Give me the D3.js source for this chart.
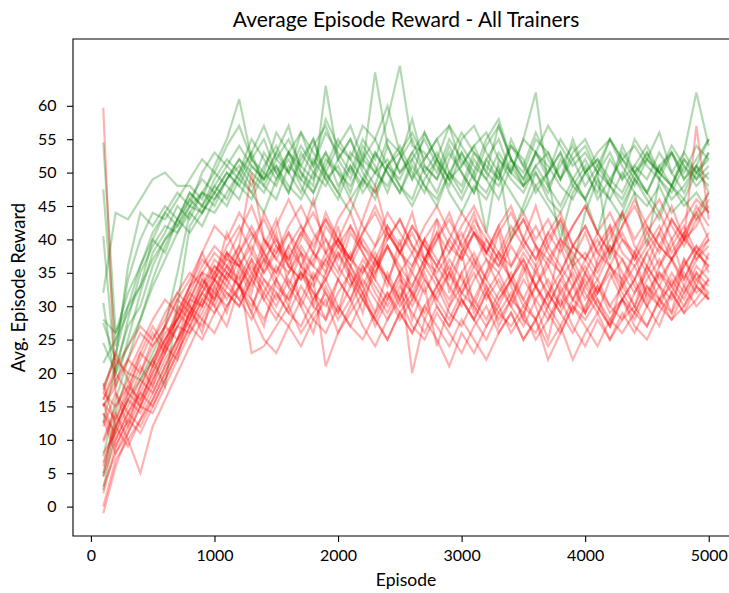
<!DOCTYPE html>
<html>
<head>
<meta charset="utf-8">
<script src="https://cdn.jsdelivr.net/npm/d3@7"></script>
<style>
  html, body { margin: 0; background: #fff; overflow: hidden; }
  svg { display: block; overflow: hidden; font-family: Lato, "DejaVu Sans", sans-serif; }
</style>
</head>
<body>
<svg id="chart" width="729" height="593"></svg>
<script>
var episodes = [100, 200, 300, 400, 500, 600, 700, 800, 900, 1000,
  1100, 1200, 1300, 1400, 1500, 1600, 1700, 1800, 1900, 2000,
  2100, 2200, 2300, 2400, 2500, 2600, 2700, 2800, 2900, 3000,
  3100, 3200, 3300, 3400, 3500, 3600, 3700, 3800, 3900, 4000,
  4100, 4200, 4300, 4400, 4500, 4600, 4700, 4800, 4900, 5000];

var xTicks = [0, 1000, 2000, 3000, 4000, 5000];
var yTicks = [0, 5, 10, 15, 20, 25, 30, 35, 40, 45, 50, 55, 60];

// green trainers
var greenRuns = [
  [54.5, 26, 30, 33, 37, 40, 42, 45, 44, 47, 50, 48, 52, 49, 51, 47, 53, 50, 48, 52, 55, 50, 47, 51, 53, 49, 52, 55, 50, 48, 53, 51, 49, 54, 52, 47, 50, 53, 48, 51, 46, 49, 52, 50, 47, 51, 53, 49, 52, 55],
  [47.5, 24, 34, 40, 44, 43, 46, 49, 52, 50, 54, 57, 52, 55, 50, 53, 56, 51, 58, 54, 52, 57, 55, 60, 53, 56, 52, 55, 57, 51, 54, 56, 52, 50, 55, 53, 57, 54, 51, 53, 50, 55, 52, 54, 51, 49, 53, 50, 54, 52],
  [40.5, 20, 28, 35, 39, 42, 41, 45, 47, 46, 49, 51, 48, 53, 50, 47, 52, 55, 49, 51, 47, 53, 50, 48, 52, 58, 51, 49, 54, 50, 47, 52, 55, 50, 48, 53, 49, 40, 47, 50, 52, 48, 46, 50, 53, 49, 47, 51, 48, 50],
  [32, 44, 43, 46, 49, 50, 48, 48, 46, 51, 55, 61, 52, 50, 56, 53, 49, 54, 57, 52, 55, 51, 65, 54, 50, 53, 56, 52, 49, 55, 57, 53, 50, 54, 51, 56, 52, 49, 53, 55, 51, 48, 54, 50, 52, 56, 50, 53, 62, 54],
  [30.5, 18, 25, 32, 38, 41, 45, 43, 47, 50, 48, 46, 51, 49, 53, 57, 50, 48, 63, 52, 49, 54, 51, 47, 52, 55, 50, 53, 49, 51, 54, 50, 57, 52, 48, 51, 53, 49, 55, 50, 47, 52, 49, 51, 54, 50, 48, 52, 49, 51],
  [27.5, 22, 36, 44, 42, 45, 43, 47, 45, 44, 47, 50, 53, 48, 46, 51, 49, 47, 52, 50, 46, 49, 53, 50, 47, 51, 48, 46, 50, 53, 49, 47, 51, 40, 45, 50, 47, 52, 49, 46, 41, 48, 45, 49, 47, 44, 48, 46, 50, 48],
  [24.5, 20, 24, 28, 34, 39, 43, 47, 45, 49, 52, 50, 55, 52, 49, 53, 51, 55, 50, 54, 57, 52, 50, 55, 53, 49, 56, 52, 57, 54, 51, 49, 53, 50, 55, 62, 48, 51, 54, 50, 53, 55, 51, 48, 52, 50, 53, 49, 51, 47],
  [21.5, 25, 29, 33, 40, 44, 42, 46, 49, 47, 45, 49, 47, 51, 54, 50, 47, 52, 49, 46, 51, 48, 53, 50, 47, 52, 48, 45, 50, 47, 52, 49, 46, 51, 48, 50, 46, 44, 48, 46, 50, 37, 44, 49, 46, 43, 48, 45, 47, 44],
  [17.5, 23, 30, 36, 41, 44, 47, 45, 50, 53, 51, 49, 53, 57, 52, 50, 54, 51, 56, 53, 50, 55, 52, 58, 66, 54, 53, 50, 55, 52, 49, 54, 57, 52, 50, 55, 53, 49, 52, 54, 50, 53, 49, 55, 52, 50, 48, 53, 50, 52],
  [12.5, 21, 27, 30, 36, 40, 43, 41, 44, 47, 50, 48, 46, 50, 48, 53, 50, 47, 51, 55, 52, 49, 47, 51, 54, 50, 47, 52, 49, 46, 50, 41, 52, 49, 47, 51, 48, 45, 49, 52, 48, 46, 50, 47, 39, 49, 46, 48, 51, 49],
  [7.5, 16, 22, 28, 33, 37, 41, 44, 42, 46, 49, 52, 49, 47, 51, 48, 46, 50, 53, 48, 51, 47, 50, 52, 48, 46, 51, 49, 53, 50, 47, 52, 49, 55, 51, 48, 50, 53, 49, 46, 50, 48, 53, 50, 47, 51, 48, 52, 50, 53],
  [4.5, 14, 20, 19, 23, 27, 35, 44, 47, 45, 49, 52, 50, 48, 52, 55, 51, 49, 53, 50, 48, 52, 55, 51, 49, 53, 50, 47, 52, 56, 53, 50, 48, 52, 49, 53, 51, 48, 46, 50, 52, 49, 47, 51, 49, 53, 50, 47, 51, 55],
  [2.5, 12, 16, 19, 22, 18, 30, 42, 45, 48, 46, 50, 47, 44, 49, 52, 48, 45, 50, 47, 44, 49, 46, 51, 48, 45, 49, 52, 47, 44, 48, 46, 50, 47, 44, 48, 45, 42, 36, 44, 49, 46, 43, 47, 45, 48, 44, 46, 43, 47],
  [28, 26, 32, 36, 40, 38, 43, 46, 44, 48, 51, 54, 51, 49, 53, 50, 56, 53, 50, 47, 53, 51, 48, 54, 50, 52, 55, 51, 48, 53, 50, 55, 58, 52, 49, 53, 50, 55, 52, 48, 51, 55, 52, 49, 53, 50, 54, 51, 49, 53]
];

// red trainers
var redRuns = [
  [59.7, 17, 12, 18, 22, 25, 28, 33, 35, 34, 37, 36, 39, 35, 38, 41, 36, 34, 38, 40, 37, 35, 39, 42, 38, 36, 40, 37, 34, 38, 41, 37, 35, 39, 36, 33, 37, 40, 36, 38, 35, 39, 37, 34, 38, 41, 37, 40, 57, 43],
  [18.5, 12, 16, 20, 24, 27, 31, 29, 33, 36, 34, 38, 41, 37, 35, 39, 42, 38, 36, 40, 44, 39, 37, 41, 38, 35, 40, 43, 39, 37, 41, 38, 36, 40, 43, 39, 37, 35, 39, 42, 38, 36, 40, 38, 42, 39, 37, 41, 44, 40],
  [15.5, 10, 14, 17, 21, 25, 29, 27, 31, 34, 32, 30, 34, 37, 33, 31, 35, 32, 30, 34, 31, 36, 33, 30, 34, 32, 29, 33, 36, 32, 30, 27, 31, 34, 30, 28, 32, 35, 31, 29, 33, 30, 28, 32, 35, 31, 33, 30, 34, 32],
  [15, 19, 22, 20, 25, 29, 32, 35, 33, 37, 35, 39, 50, 40, 37, 41, 38, 36, 42, 39, 37, 43, 48, 41, 38, 42, 39, 36, 40, 44, 41, 38, 42, 45, 40, 37, 41, 44, 39, 42, 38, 41, 44, 40, 43, 46, 42, 39, 43, 45],
  [13, 8, 11, 15, 19, 23, 27, 31, 30, 34, 38, 36, 33, 37, 40, 36, 34, 38, 35, 39, 42, 38, 35, 39, 36, 33, 37, 35, 38, 41, 37, 34, 38, 36, 39, 42, 38, 35, 39, 37, 34, 38, 41, 37, 40, 36, 39, 42, 38, 40],
  [9.7, 14, 10, 13, 17, 21, 25, 29, 33, 31, 35, 33, 30, 34, 32, 29, 33, 30, 28, 32, 35, 31, 28, 32, 29, 26, 30, 33, 29, 27, 31, 28, 32, 35, 31, 28, 32, 29, 26, 30, 33, 29, 31, 28, 32, 30, 34, 31, 35, 33],
  [6.6, 12, 9, 13, 16, 20, 24, 28, 32, 30, 34, 31, 35, 38, 34, 31, 35, 33, 37, 34, 31, 35, 38, 34, 31, 35, 32, 36, 33, 30, 34, 37, 33, 30, 34, 31, 28, 32, 35, 31, 34, 30, 33, 36, 32, 35, 33, 37, 34, 36],
  [4.5, 10, 14, 18, 22, 26, 28, 32, 36, 39, 37, 41, 45, 40, 38, 42, 45, 41, 38, 43, 46, 42, 39, 44, 41, 38, 42, 45, 41, 38, 43, 40, 37, 41, 44, 40, 43, 39, 42, 45, 41, 38, 42, 46, 42, 39, 43, 40, 44, 47],
  [3, 8, 12, 16, 20, 24, 27, 30, 28, 32, 30, 33, 29, 25, 23, 27, 24, 28, 31, 26, 29, 32, 28, 25, 29, 26, 30, 27, 24, 28, 25, 22, 26, 29, 25, 28, 24, 27, 22, 26, 29, 25, 28, 30, 27, 31, 29, 33, 30, 32],
  [0, 7, 10, 5, 12, 16, 20, 24, 28, 26, 30, 33, 31, 28, 32, 29, 27, 31, 34, 30, 27, 25, 29, 32, 28, 31, 35, 30, 27, 31, 28, 25, 29, 32, 28, 26, 30, 27, 31, 34, 30, 27, 31, 29, 33, 30, 28, 32, 35, 31],
  [-1, 6, 11, 15, 14, 18, 22, 26, 29, 33, 36, 34, 38, 35, 39, 36, 34, 37, 40, 36, 33, 37, 34, 31, 35, 38, 34, 31, 35, 32, 36, 33, 30, 34, 37, 33, 30, 34, 31, 35, 32, 36, 33, 30, 34, 37, 33, 36, 39, 37],
  [17, 15, 19, 23, 21, 25, 28, 31, 35, 38, 36, 33, 37, 34, 31, 35, 38, 34, 37, 40, 36, 33, 37, 34, 30, 33, 37, 34, 31, 35, 38, 34, 31, 34, 37, 33, 30, 34, 37, 33, 36, 39, 35, 32, 36, 33, 37, 34, 38, 36],
  [16, 21, 24, 27, 25, 28, 32, 30, 34, 32, 36, 39, 35, 32, 36, 33, 30, 34, 21, 26, 30, 34, 31, 28, 32, 29, 26, 30, 27, 31, 28, 32, 29, 27, 30, 33, 29, 26, 30, 28, 31, 28, 26, 29, 27, 31, 28, 30, 33, 31],
  [15.5, 13, 17, 15, 19, 23, 27, 26, 30, 35, 33, 37, 34, 40, 37, 35, 39, 36, 34, 38, 35, 32, 36, 39, 35, 20, 28, 32, 35, 31, 28, 32, 35, 31, 29, 33, 36, 32, 29, 33, 30, 27, 31, 34, 30, 33, 31, 35, 32, 34],
  [18, 22, 20, 24, 28, 31, 29, 33, 37, 35, 39, 42, 38, 44, 40, 37, 41, 44, 40, 37, 42, 39, 36, 40, 43, 39, 37, 41, 38, 42, 45, 41, 38, 42, 39, 36, 40, 43, 39, 37, 41, 38, 42, 45, 41, 38, 43, 40, 45, 42],
  [14, 9, 13, 17, 15, 19, 23, 27, 31, 29, 33, 31, 28, 32, 29, 27, 31, 28, 26, 30, 27, 31, 28, 25, 29, 32, 28, 25, 21, 26, 23, 27, 30, 26, 29, 25, 28, 31, 27, 24, 28, 25, 29, 26, 30, 27, 32, 29, 33, 31],
  [12, 17, 14, 12, 16, 20, 24, 29, 32, 35, 38, 36, 40, 43, 39, 37, 41, 38, 44, 40, 37, 41, 45, 41, 38, 42, 39, 36, 40, 37, 41, 39, 36, 40, 43, 39, 36, 40, 38, 35, 39, 42, 38, 36, 39, 42, 38, 41, 37, 40],
  [10, 15, 18, 16, 20, 24, 28, 32, 30, 34, 31, 35, 23, 24, 27, 30, 26, 29, 32, 28, 31, 27, 24, 28, 31, 27, 25, 29, 26, 23, 27, 30, 26, 29, 25, 28, 22, 26, 30, 27, 24, 28, 31, 27, 25, 29, 32, 29, 31, 34],
  [8, 11, 15, 19, 17, 21, 25, 28, 32, 36, 34, 38, 42, 38, 35, 39, 36, 40, 43, 39, 36, 40, 37, 34, 38, 41, 37, 40, 44, 39, 36, 40, 37, 34, 38, 35, 39, 36, 33, 37, 40, 36, 34, 38, 35, 39, 37, 40, 38, 41],
  [5, 12, 16, 14, 18, 22, 25, 29, 27, 31, 35, 33, 36, 33, 30, 34, 31, 35, 32, 29, 33, 36, 32, 29, 33, 30, 34, 31, 28, 32, 35, 31, 34, 30, 27, 31, 34, 30, 33, 29, 32, 36, 32, 29, 33, 31, 35, 32, 36, 34],
  [2, 9, 13, 11, 15, 19, 23, 27, 25, 29, 32, 30, 34, 31, 28, 32, 35, 31, 34, 38, 34, 31, 35, 39, 35, 32, 36, 33, 37, 34, 31, 35, 38, 34, 31, 35, 32, 29, 33, 36, 32, 35, 31, 34, 38, 34, 37, 33, 37, 39],
  [15, 18, 22, 26, 24, 27, 31, 34, 38, 42, 40, 44, 41, 38, 42, 46, 42, 39, 43, 40, 37, 41, 44, 40, 43, 39, 36, 40, 43, 39, 42, 38, 41, 44, 40, 37, 41, 38, 42, 45, 41, 44, 40, 37, 41, 44, 40, 43, 46, 44],
  [16, 20, 17, 23, 27, 24, 30, 28, 34, 31, 38, 33, 29, 36, 41, 33, 38, 30, 35, 42, 34, 29, 37, 33, 40, 31, 36, 43, 32, 38, 30, 35, 41, 33, 28, 36, 31, 39, 34, 29, 37, 42, 33, 38, 31, 36, 40, 34, 38, 36],
  [14, 11, 17, 21, 18, 24, 22, 30, 26, 33, 29, 36, 31, 27, 34, 38, 30, 26, 33, 29, 36, 32, 27, 31, 35, 28, 33, 24, 30, 35, 29, 33, 27, 31, 36, 30, 25, 33, 29, 35, 31, 27, 34, 30, 36, 33, 29, 37, 33, 38],
  [6, 13, 18, 22, 26, 23, 29, 33, 38, 34, 41, 37, 32, 39, 43, 36, 40, 46, 38, 35, 41, 38, 34, 42, 39, 44, 37, 41, 35, 40, 44, 38, 42, 36, 40, 45, 39, 43, 37, 41, 36, 40, 44, 39, 36, 41, 45, 40, 42, 46],
  [17, 23, 19, 15, 21, 27, 25, 31, 35, 30, 27, 33, 37, 31, 34, 30, 36, 32, 28, 34, 38, 33, 29, 35, 31, 36, 40, 34, 30, 33, 37, 32, 28, 31, 35, 39, 33, 30, 36, 32, 29, 34, 37, 33, 30, 35, 32, 36, 39, 35]
];

var svg = d3.select('#chart');
var width = 729, height = 593;
var box = {left: 73, top: 39, right: 739, bottom: 536};

// keep everything inside the visible canvas
svg.append('defs').append('clipPath')
  .attr('id', 'canvasClip')
  .append('rect')
    .attr('x', 0).attr('y', 0)
    .attr('width', width).attr('height', height);

var root = svg.append('g').attr('clip-path', 'url(#canvasClip)');

var x = d3.scaleLinear().domain([-145, 5245]).range([box.left, box.right]);
var y = d3.scaleLinear().domain([-4.4, 70]).range([box.bottom, box.top]);

var line = d3.line()
  .x((d, i) => x(episodes[i]))
  .y(d => y(d));

var plot = root.append('g');

function drawRuns(runs, color, cls) {
  plot.selectAll('.' + cls)
    .data(runs)
    .enter().append('path')
      .attr('class', cls)
      .attr('d', line)
      .attr('fill', 'none')
      .attr('stroke', color)
      .attr('stroke-opacity', 0.3)
      .attr('stroke-width', 2.2)
      .attr('stroke-linejoin', 'miter');
}
drawRuns(greenRuns, '#008000', 'green-run');
drawRuns(redRuns, '#ff0000', 'red-run');

// axes
var xAxis = root.append('g')
  .attr('transform', `translate(0,${box.bottom})`)
  .call(d3.axisBottom(x).tickValues(xTicks).tickSize(6).tickPadding(8).tickFormat(d3.format('d')));
var yAxis = root.append('g')
  .attr('transform', `translate(${box.left},0)`)
  .call(d3.axisLeft(y).tickValues(yTicks).tickSize(6).tickPadding(10.5).tickFormat(d3.format('d')));

[xAxis, yAxis].forEach(function(ax) {
  ax.select('.domain').remove();
  ax.selectAll('.tick line').attr('stroke', '#000').attr('stroke-width', 1.1);
  ax.selectAll('.tick text').attr('font-size', 16).attr('fill', '#000')
    .attr('font-family', 'Lato, "DejaVu Sans", sans-serif');
});

// spines: left, bottom, top (right falls outside the canvas)
root.append('path')
  .attr('d', `M${width},${box.top} L${box.left},${box.top} L${box.left},${box.bottom} L${width},${box.bottom}`)
  .attr('fill', 'none')
  .attr('stroke', '#000')
  .attr('stroke-width', 1.1);

root.append('text')
  .attr('x', (box.left + box.right) / 2)
  .attr('y', 27)
  .attr('text-anchor', 'middle')
  .attr('font-size', 21)
  .text('Average Episode Reward - All Trainers');

root.append('text')
  .attr('x', (box.left + box.right) / 2)
  .attr('y', 586)
  .attr('text-anchor', 'middle')
  .attr('font-size', 17.5)
  .text('Episode');

root.append('text')
  .attr('transform', `translate(25,${(box.top + box.bottom) / 2}) rotate(-90)`)
  .attr('text-anchor', 'middle')
  .attr('font-size', 18.5)
  .text('Avg. Episode Reward');
</script>
</body>
</html>
